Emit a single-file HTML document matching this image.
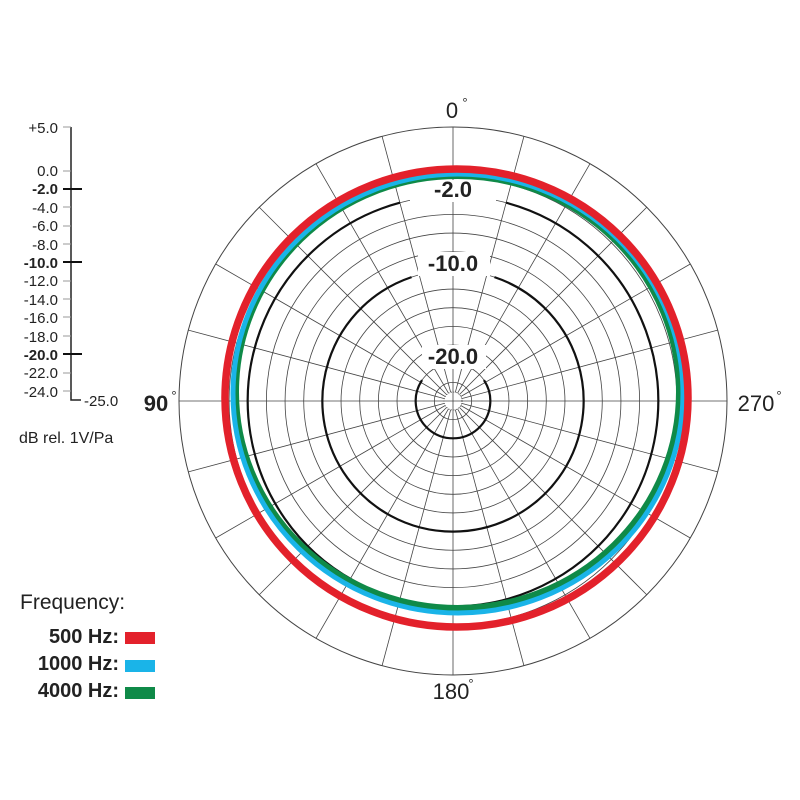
<!DOCTYPE html>
<html><head><meta charset="utf-8"><style>
html,body{margin:0;padding:0;background:#fff;}
svg{display:block;font-family:"Liberation Sans",sans-serif;}
</style></head><body>
<svg id="s" width="800" height="800" viewBox="0 0 800 800" xmlns="http://www.w3.org/2000/svg">
<rect width="800" height="800" fill="#fff"/>
<g id="grid" stroke="#444" stroke-width="0.8" fill="none"></g>
<g stroke="#111" stroke-width="2.2" fill="none" id="thick"></g>
<g fill="#fff">
<rect x="410" y="180" width="86" height="22"/>
<rect x="418" y="252" width="72" height="24"/>
<rect x="422" y="345" width="64" height="24"/>
</g>
<g font-size="22" fill="#222" text-anchor="middle" font-weight="bold">
<text x="453" y="197">-2.0</text>
<text x="453" y="271">-10.0</text>
<text x="453" y="364">-20.0</text>
</g>
<ellipse cx="457.5" cy="392" rx="221.5" ry="216" fill="none" stroke="#0f8a48" stroke-width="6"/>
<ellipse cx="458" cy="393.5" rx="225" ry="219.5" fill="none" stroke="#1ab4e8" stroke-width="5"/>
<ellipse cx="456.5" cy="398" rx="231.5" ry="229" fill="none" stroke="#e3212b" stroke-width="7.5"/>
<g font-size="22" fill="#222" text-anchor="middle">
<text x="452" y="118">0</text><text x="465" y="107" font-size="13">°</text>
<text x="156" y="411" font-weight="bold">90</text><text x="174" y="400" font-size="13">°</text>
<text x="756" y="411">270</text><text x="779" y="400" font-size="13">°</text>
<text x="451" y="699">180</text><text x="471" y="688" font-size="13">°</text>
</g>
<path d="M71 127 V400 H81" stroke="#222" fill="none" stroke-width="1.5"/>
<g font-size="15" fill="#222" text-anchor="end">
<text x="58" y="133">+5.0</text>
<text x="58" y="176">0.0</text>
<text x="58" y="194" font-weight="bold">-2.0</text>
<text x="58" y="213">-4.0</text>
<text x="58" y="231">-6.0</text>
<text x="58" y="250">-8.0</text>
<text x="58" y="268" font-weight="bold">-10.0</text>
<text x="58" y="286">-12.0</text>
<text x="58" y="305">-14.0</text>
<text x="58" y="323">-16.0</text>
<text x="58" y="342">-18.0</text>
<text x="58" y="360" font-weight="bold">-20.0</text>
<text x="58" y="378">-22.0</text>
<text x="58" y="397">-24.0</text>
</g>
<text x="84" y="406" font-size="15" fill="#222">-25.0</text>
<text x="19" y="443" font-size="16" fill="#222">dB rel. 1V/Pa</text>
<g id="ticks"></g>
<text x="20" y="609" font-size="21" fill="#222">Frequency:</text>
<g text-anchor="end" font-weight="bold" font-size="20" fill="#222">
<text x="119" y="643">500 Hz:</text>
<text x="119" y="670">1000 Hz:</text>
<text x="119" y="697">4000 Hz:</text>
</g>
<rect x="125" y="632" width="30" height="12" fill="#e3212b"/>
<rect x="125" y="660" width="30" height="12" fill="#1ab4e8"/>
<rect x="125" y="687" width="30" height="12" fill="#0f8a48"/>
</svg>
<script>
(function(){
var NS="http://www.w3.org/2000/svg",cx=453,cy=401,k=9.33;
var g=document.getElementById('grid');
function el(p,tag,a){var e=document.createElementNS(NS,tag);for(var n in a)e.setAttribute(n,a[n]);p.appendChild(e);return e;}
el(g,'circle',{cx:cx,cy:cy,r:274,'stroke-width':1});
for(var d=0;d>=-22;d-=2){el(g,'circle',{cx:cx,cy:cy,r:k*(24+d)});}
el(g,'circle',{cx:cx,cy:cy,r:9,'stroke-dasharray':'1 1.5'});
for(var a=0;a<360;a+=15){var t=a*Math.PI/180;var r0=(a%90==0)?0:9;
el(g,'line',{x1:cx+r0*Math.sin(t),y1:cy-r0*Math.cos(t),x2:cx+274*Math.sin(t),y2:cy-274*Math.cos(t)});}
var th=document.getElementById('thick');
function arc(r,gap){var t=gap*Math.PI/180;var x1=cx+r*Math.sin(t),y1=cy-r*Math.cos(t),x2=cx-r*Math.sin(t);
el(th,'path',{d:'M'+x1+' '+y1+' A'+r+' '+r+' 0 1 1 '+x2+' '+y1});}
arc(k*22,15);arc(k*14,18.5);arc(k*4,56);
var tk=document.getElementById('ticks');
var ys=[127,171,189,207,226,244,262,281,299,317,336,354,373,391];
ys.forEach(function(y,i){var b=(i==2||i==6||i==11);
el(tk,'line',{x1:63,y1:y,x2:b?82:71,y2:y,stroke:b?'#111':'#999','stroke-width':b?2:1});});
})();
</script>
</body></html>
